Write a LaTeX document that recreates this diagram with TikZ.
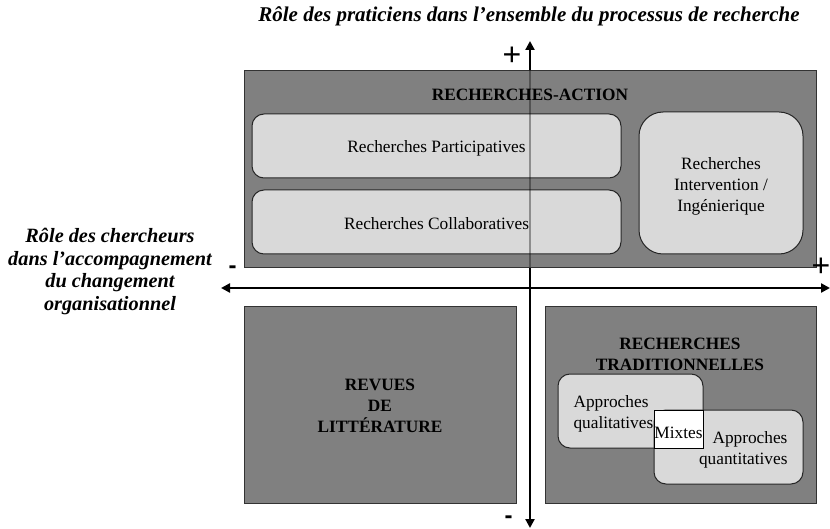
\documentclass[tikz,border=0pt]{standalone}
\usepackage{fontspec}
\setmainfont{Liberation Serif}
\newfontfamily\signfont{Liberation Sans}
\usetikzlibrary{arrows.meta}
\definecolor{boxdark}{HTML}{808080}
\definecolor{boxlight}{HTML}{D9D9D9}
\begin{document}
\begin{tikzpicture}[x=1pt,y=-1pt,
  bigbox/.style={draw=black!80, fill=boxdark, line width=0.9, inner sep=0},
  innerbox/.style={draw=black!85, fill=boxlight, line width=1, rounded corners=12, inner sep=0},
  bodytext/.style={font=\fontsize{17.3}{21}\selectfont, align=center},
  boldtext/.style={font=\fontsize{17.3}{21}\selectfont\bfseries, align=center},
  labeltext/.style={font=\fontsize{20.3}{22.7}\selectfont\bfseries\itshape, align=center},
  signtext/.style={font=\signfont\fontsize{32}{32}\selectfont, inner sep=0, anchor=base},
  minustext/.style={font=\signfont\bfseries\fontsize{24}{24}\selectfont, inner sep=0, anchor=base},
  axisline/.style={line width=2.6, {Triangle[length=9,width=9]}-{Triangle[length=9,width=9]}}
]
\useasboundingbox (0,0) rectangle (830,529);

% axes
\coordinate (vtop) at (530,41);
\coordinate (vbot) at (530,528);
\coordinate (hleft) at (221,288);
\coordinate (hright) at (830,288);
\draw[axisline] (vbot) -- (vtop);
\draw[axisline] (hleft) -- (hright);

% top quadrant
\node[bigbox, minimum width=572, minimum height=197] (ra) at (530,168.5) {};
\node[boldtext] (ratitle) at (530,95) {RECHERCHES-ACTION};
\node[innerbox, minimum width=369, minimum height=64] (part) at (436.5,146) {};
\node[bodytext] (partt) at (436.5,148) {Recherches Participatives};
\node[innerbox, minimum width=369, minimum height=64] (coll) at (436.5,222) {};
\node[bodytext] (collt) at (436.5,224) {Recherches Collaboratives};
\node[innerbox, rounded corners=24, minimum width=164, minimum height=142] (inter) at (721,183) {};
\node[bodytext] (intert) at (721,186.5) {Recherches\\Intervention /\\Ingénierique};
\coordinate (ratop) at (530,70);
\coordinate (rabot) at (530,267);
\draw[line width=2.6, black, opacity=0.35] (ratop) -- (rabot);

% bottom left
\node[bigbox, minimum width=272, minimum height=197] (rev) at (380,404.5) {};
\node[boldtext] (revt) at (380,406) {REVUES\\DE\\LITTÉRATURE};

% bottom right
\node[bigbox, minimum width=271, minimum height=197] (trad) at (680.5,404.5) {};
\node[boldtext] (tradt) at (680,354.5) {RECHERCHES\\TRADITIONNELLES};
\node[innerbox, minimum width=145, minimum height=74] (qual) at (630.5,411) {};
\node[innerbox, minimum width=149, minimum height=74] (quant) at (728.5,447) {};
\node[draw=black, fill=white, line width=1, minimum width=49, minimum height=38, inner sep=0] (mix) at (678.5,429) {};
\node[bodytext, align=left, anchor=west] (qualt) at (570,414) {Approches\\qualitatives};
\node[bodytext, align=right, anchor=east] (quantt) at (791,450) {Approches\\quantitatives};
\node[bodytext] (mixt) at (678.5,432.5) {Mixtes};

% labels
\node[labeltext, font=\fontsize{21}{22.7}\selectfont\bfseries\itshape] (ytitle) at (529,16) {Rôle des praticiens dans l’ensemble du processus de recherche};
\node[labeltext] (xtitle) at (110,271.5) {Rôle des chercheurs\\dans l’accompagnement\\du changement\\organisationnel};

% signs
\node[signtext] (yplus) at (512,66) {+};
\node[signtext] (xplus) at (821,276.5) {+};
\node[minustext] (xminus) at (232.5,273.5) {-};
\node[minustext] (yminus) at (508.5,523) {-};
\end{tikzpicture}
\end{document}
